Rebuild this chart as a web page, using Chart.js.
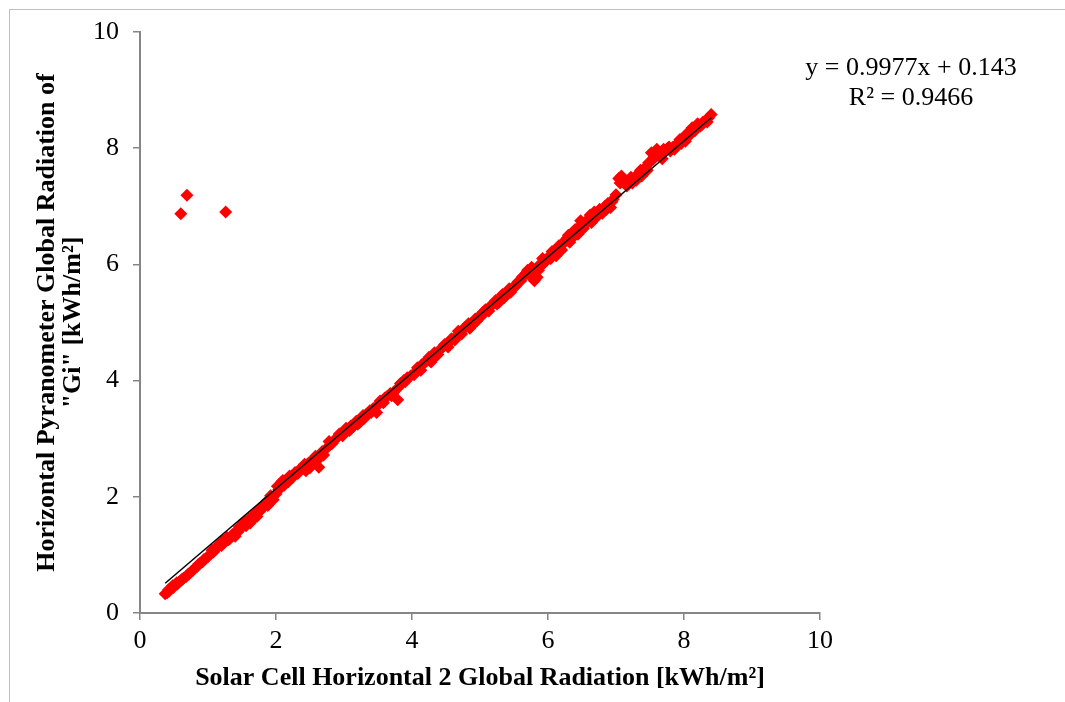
<!DOCTYPE html>
<html lang="en">
<head>
<meta charset="UTF-8">
<title>Solar Cell vs Pyranometer</title>
<script src="https://cdn.jsdelivr.net/npm/chart.js"></script>
<style>
    html, body { margin: 0; padding: 0; background: #fff; overflow: hidden; }
    #wrap { position: relative; width: 1065px; height: 702px; }
    #frame { position: absolute; left: 9px; top: 9px; width: 1200px; height: 800px;
             border-left: 1px solid #c0c0c0; border-top: 1px solid #c0c0c0; }
    #graph { position: absolute; left: 0; top: 0; }
    #eq { position: absolute; left: 781px; top: 52px; width: 260px; text-align: center;
          font-family: "Liberation Serif", "Times New Roman", serif; font-size: 26px; line-height: 30px; color: #000; }
</style>
</head>
<body>
<div id="wrap">
    <div id="frame"></div>
    <canvas id="graph" width="1065" height="702"></canvas>
    <div id="eq">y = 0.9977x + 0.143<br>R² = 0.9466</div>
</div>
<script>
// solar cell (x) readings, kWh/m2
const cellX = [
    0.37,0.40,0.43,0.46,0.49,0.52,0.55,0.58,0.61,0.64,0.68,0.72,0.76,0.80,0.84,0.88,0.92,0.96,1.00,
    1.04,1.08,1.12,1.16,1.20,1.24,1.28,1.32,1.36,1.40,1.44,1.48,1.52,1.56,1.60,
    1.64,1.68,1.72,1.76,1.80,1.84,1.88,1.92,1.96,2.00,
    2.04,2.08,2.12,2.16,2.20,2.24,2.28,2.32,2.36,2.40,2.44,2.48,2.52,2.56,2.60,
    2.63,2.68,2.73,2.78,2.83,2.88,2.93,2.98,3.03,3.08,3.13,3.18,3.23,3.28,3.33,3.38,3.43,3.48,3.53,3.58,3.63,3.68,3.73,3.79,3.83,3.88,3.93,3.98,
    4.03,4.08,4.13,4.18,4.23,4.28,4.33,4.38,4.43,4.48,4.53,4.58,4.63,4.68,4.73,4.78,4.83,4.88,4.93,4.98,
    5.03,5.08,5.13,5.18,5.23,5.28,5.33,5.38,5.43,5.48,
    5.52,5.56,5.60,5.64,5.68,5.72,5.76,5.80,5.84,5.88,5.92,5.96,6.00,
    6.04,6.08,6.12,6.16,6.20,6.24,6.28,6.32,6.36,6.40,6.44,6.48,6.52,6.56,6.60,6.64,6.68,6.72,6.76,6.80,6.84,6.88,6.92,6.96,7.00,
    7.04,7.08,7.12,7.16,7.20,7.24,7.28,7.32,7.36,7.40,7.44,7.48,
    7.52,7.56,7.60,7.64,7.68,7.72,7.76,7.80,7.84,7.88,7.92,7.96,8.00,8.04,8.08,8.12,8.16,8.20,8.24,8.28,8.32,8.36,8.40,
    0.42,0.48,0.54,0.62,0.70,0.78,0.86,0.94,
    1.06,1.14,1.22,1.30,1.38,1.46,1.54,1.62,
    1.70,1.78,1.86,1.94,2.02,
    2.10,2.18,2.26,2.34,2.42,2.50,2.58,
    2.70,2.80,2.90,3.00,3.10,3.20,3.30,3.40,3.50,3.60,3.70,3.80,3.90,
    4.05,4.15,4.25,4.35,4.45,4.55,4.65,4.75,4.85,4.95,5.05,5.15,5.25,5.35,5.45,
    5.54,5.62,5.70,5.78,5.86,5.94,
    6.06,6.14,6.22,6.30,6.38,6.46,6.54,6.62,6.70,6.78,6.86,6.94,
    7.06,7.14,7.22,7.30,7.38,7.46,
    7.54,7.62,7.70,7.78,7.86,7.94,8.02,8.10,8.18,8.26,8.34,
    0.60,0.69,1.26
];
// pyranometer (y) readings, kWh/m2
const pyraY = [
    0.33,0.35,0.38,0.42,0.44,0.49,0.50,0.54,0.57,0.60,0.63,0.67,0.72,0.76,0.80,0.85,0.88,0.93,0.97,
    1.02,1.05,1.10,1.18,1.16,1.22,1.30,1.28,1.35,1.32,1.40,1.45,1.55,1.50,1.62,
    1.60,1.70,1.66,1.75,1.80,1.88,1.85,2.02,1.95,2.05,
    2.12,2.25,2.20,2.30,2.36,2.33,2.42,2.40,2.48,2.52,2.45,2.58,2.55,2.66,2.62,
    2.51,2.78,2.82,2.95,2.92,3.00,3.08,3.05,3.18,3.14,3.20,3.30,3.28,3.40,3.42,3.48,3.52,3.45,3.65,3.62,3.72,3.78,3.80,3.67,3.95,4.00,4.05,4.08,
    4.10,4.22,4.18,4.30,4.35,4.32,4.48,4.45,4.55,4.62,4.58,4.72,4.70,4.85,4.80,4.92,4.98,4.95,5.06,5.10,
    5.12,5.22,5.20,5.30,5.38,5.35,5.48,5.46,5.58,5.60,
    5.62,5.70,5.72,5.80,5.85,5.82,5.95,5.72,5.78,6.00,6.10,6.05,6.12,
    6.10,6.18,6.15,6.32,6.25,6.40,6.45,6.38,6.55,6.60,6.52,6.75,6.62,6.70,6.78,6.72,6.90,6.85,6.95,6.88,7.00,7.05,6.98,7.12,7.20,
    7.48,7.52,7.40,7.35,7.45,7.40,7.50,7.55,7.62,7.58,7.68,7.75,
    7.92,7.85,7.98,7.90,7.82,7.95,8.00,7.95,8.02,8.05,8.10,8.08,8.18,8.25,8.22,8.35,8.30,8.42,8.38,8.45,8.48,8.52,8.58,
    0.40,0.47,0.52,0.58,0.66,0.74,0.84,0.92,
    1.08,1.15,1.25,1.26,1.36,1.48,1.58,1.55,
    1.72,1.82,1.92,1.98,2.18,
    2.28,2.26,2.38,2.46,2.56,2.50,2.70,
    2.72,2.90,3.02,3.12,3.22,3.25,3.35,3.45,3.58,3.70,3.74,3.88,3.98,
    4.15,4.28,4.40,4.42,4.58,4.66,4.76,4.88,4.90,5.02,5.18,5.28,5.32,5.42,5.52,
    5.66,5.78,5.90,5.88,5.90,6.02,
    6.22,6.28,6.35,6.50,6.48,6.65,6.72,6.85,6.80,6.92,6.95,7.08,
    7.40,7.45,7.50,7.45,7.52,7.62,
    7.80,7.88,7.98,8.02,7.98,8.15,8.12,8.28,8.36,8.40,8.45,
    6.87,7.19,6.90
];
// linear trendline ends (y = 0.9977x + 0.143)
const trendX = [0.37, 8.40];
const trendY = [0.512, 8.524];
const axisTicks = [0, 2, 4, 6, 8, 10];

const serif = '"Liberation Serif", "Times New Roman", serif';
const axisGray = '#868686';

const points = cellX.map((x, i) => ({ x: x, y: pyraY[i] }));
const trend = trendX.map((x, i) => ({ x: x, y: trendY[i] }));

new Chart(document.getElementById('graph'), {
    type: 'scatter',
    data: {
        datasets: [
            {
                data: trend,
                showLine: true,
                borderColor: '#000',
                borderWidth: 1.5,
                pointRadius: 0
            },
            {
                data: points,
                pointStyle: 'rectRot',
                pointRadius: 6.5,
                pointBorderWidth: 0,
                backgroundColor: '#ff0000',
                borderColor: '#ff0000'
            }
        ]
    },
    options: {
        responsive: false,
        animation: false,
        events: [],
        layout: { padding: { left: 0, top: 32, right: 245, bottom: 0 } },
        plugins: { legend: { display: false }, tooltip: { enabled: false } },
        scales: {
            x: {
                type: 'linear',
                min: 0, max: 10,
                afterBuildTicks: (s) => { s.ticks = axisTicks.map(v => ({ value: v })); },
                afterFit: (s) => { s.height = 89; },
                grid: { drawOnChartArea: false, drawTicks: true, tickLength: 7, color: axisGray, lineWidth: 1.5 },
                border: { color: axisGray, width: 2 },
                ticks: { color: '#000', padding: 6, maxRotation: 0, font: { family: serif, size: 26 } },
                title: {
                    display: true,
                    text: 'Solar Cell Horizontal 2 Global Radiation [kWh/m²]',
                    color: '#000',
                    padding: { top: 0, bottom: 8 },
                    font: { family: serif, size: 26, weight: 'bold' }
                }
            },
            y: {
                type: 'linear',
                min: 0, max: 10,
                afterBuildTicks: (s) => { s.ticks = axisTicks.map(v => ({ value: v })); },
                afterFit: (s) => { s.width = 140; },
                grid: { drawOnChartArea: false, drawTicks: true, tickLength: 7, color: axisGray, lineWidth: 1.5 },
                border: { color: axisGray, width: 2 },
                ticks: { color: '#000', padding: 14, font: { family: serif, size: 26 } },
                title: {
                    display: true,
                    text: ['Horizontal Pyranometer Global Radiation of', '"Gi" [kWh/m²]'],
                    color: '#000',
                    padding: { top: 35, bottom: 0 },
                    font: { family: serif, size: 26, weight: 'bold', lineHeight: 0.97 }
                }
            }
        }
    }
});
</script>
</body>
</html>
